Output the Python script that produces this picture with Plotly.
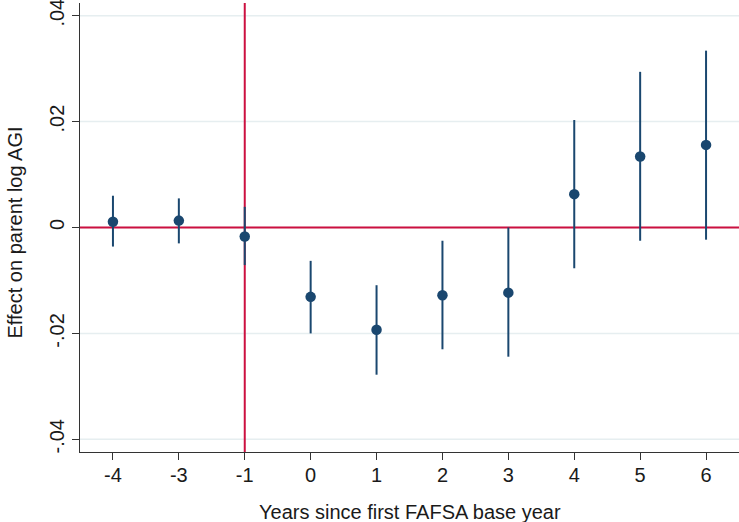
import plotly.graph_objects as go

years = ["-4", "-3", "-1", "0", "1", "2", "3", "4", "5", "6"]
estimate = [0.0011, 0.0013, -0.0017, -0.0131, -0.0193, -0.0128, -0.0123, 0.0063, 0.0134, 0.0156]
ci_upper = [0.0060, 0.0055, 0.0039, -0.0063, -0.0109, -0.0025, 0.0000, 0.0203, 0.0294, 0.0334]
ci_lower = [-0.0036, -0.0030, -0.0071, -0.0200, -0.0278, -0.0230, -0.0244, -0.0077, -0.0025, -0.0023]
ytick_vals = [-0.04, -0.02, 0, 0.02, 0.04]
ytick_text = ["-.04", "-.02", "0", ".02", ".04"]
event_year = "-1"

navy = "#1a476f"
red = "#cc1040"
grid = "#e6eef0"
font = "Liberation Sans, Arial, sans-serif"
txt = "#1a1a1a"

fig = go.Figure()

# gridlines (drawn as shapes so that the reference lines sit above them)
for v in ytick_vals:
    fig.add_shape(type="line", xref="paper", yref="y", x0=0, x1=1, y0=v, y1=v,
                  line=dict(color=grid, width=1.5), layer="below")
fig.add_shape(type="line", xref="paper", yref="y", x0=0, x1=1, y0=0, y1=0,
              line=dict(color=red, width=2), layer="below")
fig.add_shape(type="line", xref="x", yref="paper",
              x0=years.index(event_year), x1=years.index(event_year), y0=0, y1=1,
              line=dict(color=red, width=2), layer="below")

fig.add_trace(go.Scatter(
    x=years, y=estimate, mode="markers",
    marker=dict(color=navy, size=10.5, line=dict(width=0)),
    error_y=dict(type="data", symmetric=False,
                 array=[u - e for u, e in zip(ci_upper, estimate)],
                 arrayminus=[e - l for e, l in zip(estimate, ci_lower)],
                 color=navy, thickness=2, width=0),
    showlegend=False, hoverinfo="skip",
))

fig.add_annotation(text="Years since first FAFSA base year", xref="paper", yref="paper",
                   x=0.5, y=-0.133, xanchor="center", yanchor="middle", showarrow=False,
                   font=dict(size=20, family=font, color=txt))
fig.add_annotation(text="Effect on parent log AGI", xref="paper", yref="paper",
                   x=-0.0979, y=0.49, xanchor="center", yanchor="middle", showarrow=False,
                   textangle=-90, font=dict(size=20, family=font, color=txt))

fig.update_layout(
    width=739, height=522,
    margin=dict(l=80, r=0, t=3, b=70),
    paper_bgcolor="white", plot_bgcolor="white",
    font=dict(family=font, size=20, color=txt),
)
fig.update_xaxes(
    type="category", categoryorder="array", categoryarray=years,
    range=[-0.5, 9.5], showgrid=False, zeroline=False, automargin=False,
    showline=True, linecolor="#333", linewidth=1,
    ticks="outside", ticklen=7, tickcolor="#333",
    ticklabelstandoff=-2, ticklabeloverflow="allow",
    tickfont=dict(size=20, family=font, color=txt),
)
fig.update_yaxes(
    range=[-0.0424, 0.0424], tickvals=ytick_vals, ticktext=ytick_text,
    tickangle=-90, showgrid=False,
    zeroline=False, showline=True, linecolor="#333", linewidth=1, automargin=False,
    ticks="outside", ticklen=7, tickcolor="#333",
    ticklabelstandoff=0, ticklabeloverflow="allow",
    tickfont=dict(size=20, family=font, color=txt),
)

fig.write_html("out.html", config={"displayModeBar": False},
               post_script="document.body.style.margin='0';")
